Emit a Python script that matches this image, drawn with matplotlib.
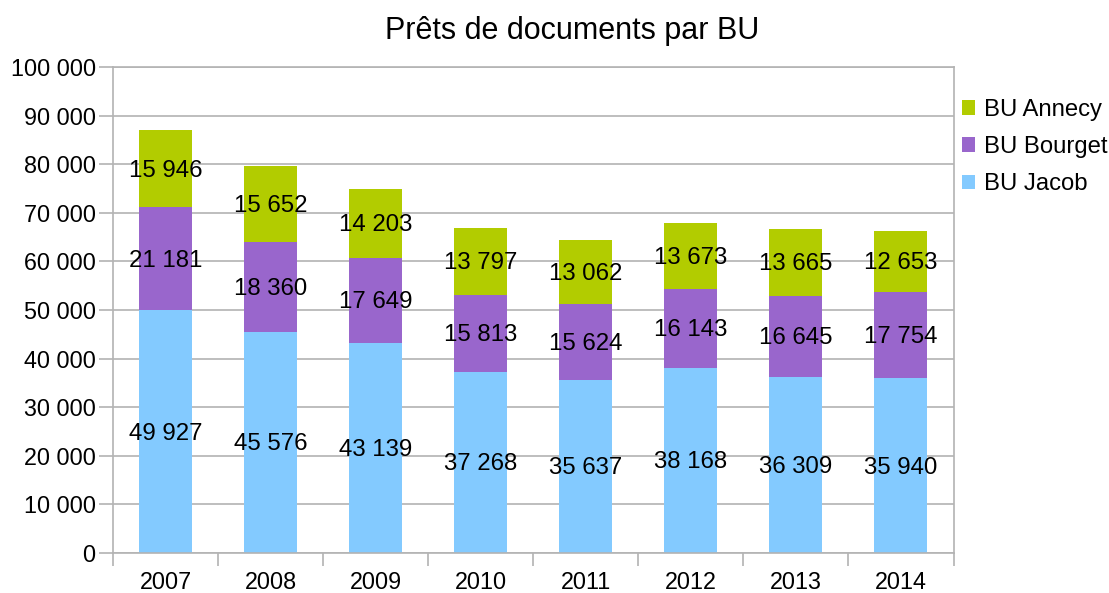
import matplotlib
matplotlib.use("Agg")
import matplotlib.pyplot as plt
import matplotlib.transforms as mtransforms
from matplotlib.patches import Patch
import numpy as np

plt.rcParams['font.family'] = ['Liberation Sans', 'DejaVu Sans']

years = ["2007", "2008", "2009", "2010", "2011", "2012", "2013", "2014"]
jacob = [49927, 45576, 43139, 37268, 35637, 38168, 36309, 35940]
bourget = [21181, 18360, 17649, 15813, 15624, 16143, 16645, 17754]
annecy = [15946, 15652, 14203, 13797, 13062, 13673, 13665, 12653]
series_names = ["BU Jacob", "BU Bourget", "BU Annecy"]
colors = ["#83caff", "#9966cc", "#b2cc00"]
yticks = list(range(0, 100001, 10000))

def fmt(v):
    return f"{v:,}".replace(",", " ")

fig = plt.figure(figsize=(11.09, 5.93), dpi=100)
ax = fig.add_axes([113/1109, 1 - 553/593, (953.5 - 113)/1109, (553 - 67)/593])

lbl_tr = ax.transData + mtransforms.ScaledTranslation(0, -2/100, fig.dpi_scale_trans)

x = np.arange(len(years))
width = 0.505
bottom = np.zeros(len(years))
handles = []
for vals, name, c in zip([jacob, bourget, annecy], series_names, colors):
    vals = np.array(vals, dtype=float)
    ax.bar(x, vals, width, bottom=bottom, color=c, zorder=2, label=name)
    for xi, b, v in zip(x, bottom, vals):
        ax.text(xi, b + v / 2, fmt(int(v)), ha='center', va='center',
                fontsize=17.3, color='black', zorder=3, transform=lbl_tr)
    bottom += vals
    handles.append(Patch(facecolor=c, label=name))

ax.set_xlim(-0.5, len(years) - 0.5)
ax.set_ylim(0, 100000)
ax.set_yticks(yticks)
ax.set_yticklabels([fmt(v) for v in yticks], fontsize=16.8)
ax.yaxis.grid(True, color='#b3b3b3', linewidth=1.2, zorder=0)
ax.set_axisbelow(True)
ax.set_xticks(x)
ax.set_xticklabels(years, fontsize=16.8)
ax.set_xticks(np.arange(-0.5, len(years)), minor=True)
ax.tick_params(axis='x', which='major', length=0, pad=13)
ax.tick_params(axis='x', which='minor', length=9, color='#b3b3b3', width=1.2)
ax.tick_params(axis='y', length=10, color='#b3b3b3', width=1.2, pad=2.5)
for s in ax.spines.values():
    s.set_color('#b3b3b3')
    s.set_linewidth(1.2)

fig.text(572/1109, 1 - 31/593, "Prêts de documents par BU", ha='center', va='center', fontsize=22)

fig.legend(handles=handles[::-1], loc='center left',
           bbox_to_anchor=(962/1109, 1 - 147/593), frameon=False,
           fontsize=17.2, handlelength=0.56, handleheight=0.56,
           handletextpad=0.35, labelspacing=0.64, borderaxespad=0, borderpad=0)

fig.savefig("out.png", dpi=100)
